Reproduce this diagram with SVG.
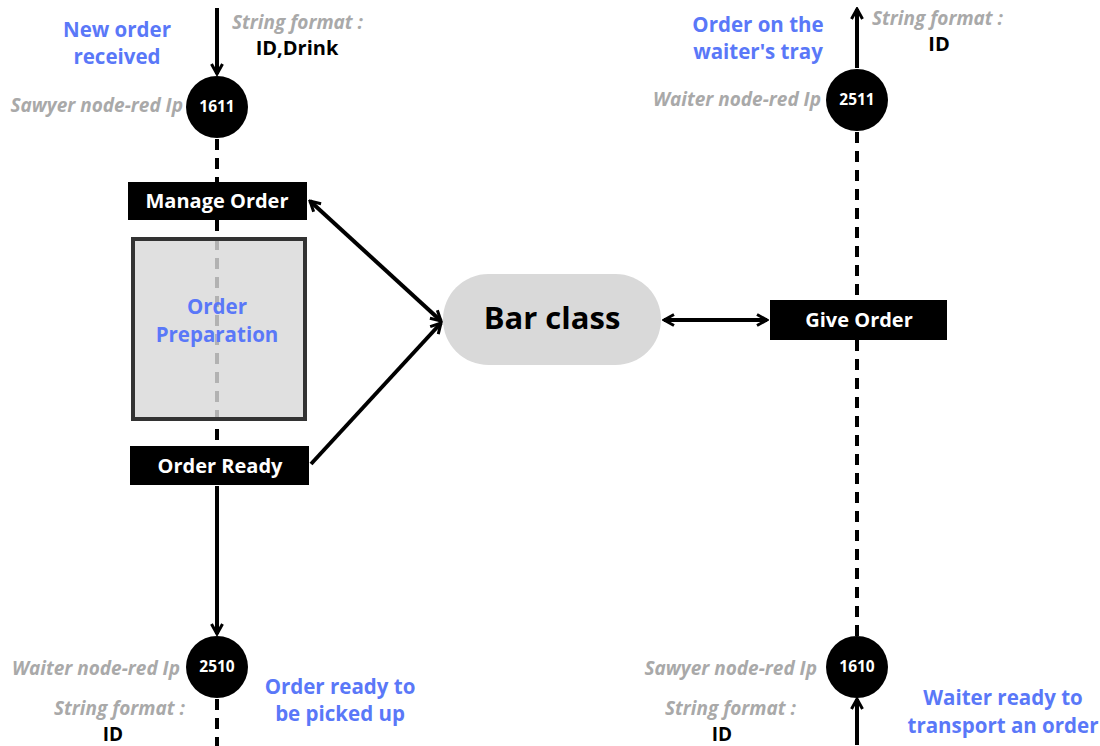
<svg xmlns="http://www.w3.org/2000/svg" width="1100" height="746" viewBox="0 0 1100 746">
<defs>
<style>
text{font-family:"Open Sans","Liberation Sans",sans-serif;font-weight:700}
.blue{fill:#5a78f8;font-size:20.5px;text-anchor:middle}
.gray{fill:#a9a9a9;font-size:19px;font-style:italic}
.fmt{fill:#000;font-size:20px;text-anchor:middle}
.fmtb{fill:#000;font-size:19px;text-anchor:middle}
.num{fill:#fff;font-size:15.5px;text-anchor:middle}
.box{fill:#000}
.boxt{fill:#fff;font-size:20px;text-anchor:middle}
.solid{stroke:#000;stroke-width:4;fill:none}
.dash{stroke:#000;stroke-width:4;fill:none;stroke-dasharray:11 8}
</style>
<marker id="arr" viewBox="0 0 14 14" refX="12" refY="7" markerWidth="14" markerHeight="14" markerUnits="userSpaceOnUse" orient="auto-start-reverse">
<path d="M2,1.5 L12,7 L2,12.5" fill="none" stroke="#000" stroke-width="3" stroke-linejoin="miter"/>
</marker>
</defs>

<g id="connectors">
<line class="solid" x1="217" y1="8" x2="217" y2="74" marker-end="url(#arr)"/>
<line class="dash" x1="217" y1="139" x2="217" y2="182"/>
<line class="dash" x1="217" y1="220" x2="217" y2="445"/>
<line class="solid" x1="217" y1="486" x2="217" y2="634" marker-end="url(#arr)"/>
<line class="dash" x1="217" y1="699" x2="217" y2="746"/>
<line class="solid" x1="310" y1="201" x2="441" y2="321" marker-start="url(#arr)" marker-end="url(#arr)"/>
<line class="solid" x1="311" y1="464" x2="441" y2="323" marker-end="url(#arr)"/>
<line class="solid" x1="664" y1="320" x2="767" y2="320" marker-start="url(#arr)" marker-end="url(#arr)"/>
<line class="solid" x1="857" y1="68" x2="857" y2="9" marker-end="url(#arr)"/>
<line class="dash" x1="857" y1="132" x2="857" y2="300"/>
<line class="dash" x1="857" y1="340" x2="857" y2="636"/>
<line class="solid" x1="857" y1="745" x2="857" y2="699" marker-end="url(#arr)"/>
</g>

<g id="node-1611">
<circle cx="217" cy="107" r="31" fill="#000"/>
<text class="num" x="217" y="112">1611</text>
<text class="gray" x="183" y="112" text-anchor="end">Sawyer node-red Ip</text>
<text class="blue" x="117" y="37">New order</text>
<text class="blue" x="117" y="64">received</text>
<text class="gray" x="232" y="29">String format :</text>
<text class="fmt" x="297" y="55">ID,Drink</text>
</g>

<g id="node-manage-order">
<rect class="box" x="128" y="182" width="179" height="38"/>
<text class="boxt" x="217" y="208">Manage Order</text>
</g>

<g id="node-order-preparation">
<rect x="133" y="239" width="172" height="180" fill="#d9d9d9" fill-opacity="0.82" stroke="#333" stroke-width="4"/>
<text class="blue" x="217" y="314">Order</text>
<text class="blue" x="217" y="342">Preparation</text>
</g>

<g id="node-order-ready">
<rect class="box" x="130" y="446" width="179" height="39"/>
<text class="boxt" x="220" y="473">Order Ready</text>
</g>

<g id="node-2510">
<circle cx="217" cy="667" r="31" fill="#000"/>
<text class="num" x="217" y="672">2510</text>
<text class="gray" x="180" y="675" text-anchor="end">Waiter node-red Ip</text>
<text class="gray" x="185" y="715" text-anchor="end">String format :</text>
<text class="fmtb" x="113" y="741">ID</text>
<text class="blue" x="340" y="694">Order ready to</text>
<text class="blue" x="340" y="721">be picked up</text>
</g>

<g id="node-bar-class">
<rect x="443" y="274" width="218" height="91" rx="45.5" ry="45.5" fill="#d9d9d9"/>
<text x="552" y="329" text-anchor="middle" style="font-size:31px;fill:#000">Bar class</text>
</g>

<g id="node-give-order">
<rect class="box" x="770" y="300" width="177" height="40"/>
<text class="boxt" x="859" y="327">Give Order</text>
</g>

<g id="node-2511">
<circle cx="857" cy="100" r="31" fill="#000"/>
<text class="num" x="857" y="105">2511</text>
<text class="gray" x="821" y="106" text-anchor="end">Waiter node-red Ip</text>
<text class="blue" x="758" y="32">Order on the</text>
<text class="blue" x="758" y="59">waiter's tray</text>
<text class="gray" x="872" y="25">String format :</text>
<text class="fmt" x="939" y="51">ID</text>
</g>

<g id="node-1610">
<circle cx="857" cy="667" r="31" fill="#000"/>
<text class="num" x="857" y="672">1610</text>
<text class="gray" x="817" y="675" text-anchor="end">Sawyer node-red Ip</text>
<text class="gray" x="796" y="715" text-anchor="end">String format :</text>
<text class="fmtb" x="722" y="741">ID</text>
<text class="blue" x="1003" y="705">Waiter ready to</text>
<text class="blue" x="1003" y="733">transport an order</text>
</g>
</svg>
